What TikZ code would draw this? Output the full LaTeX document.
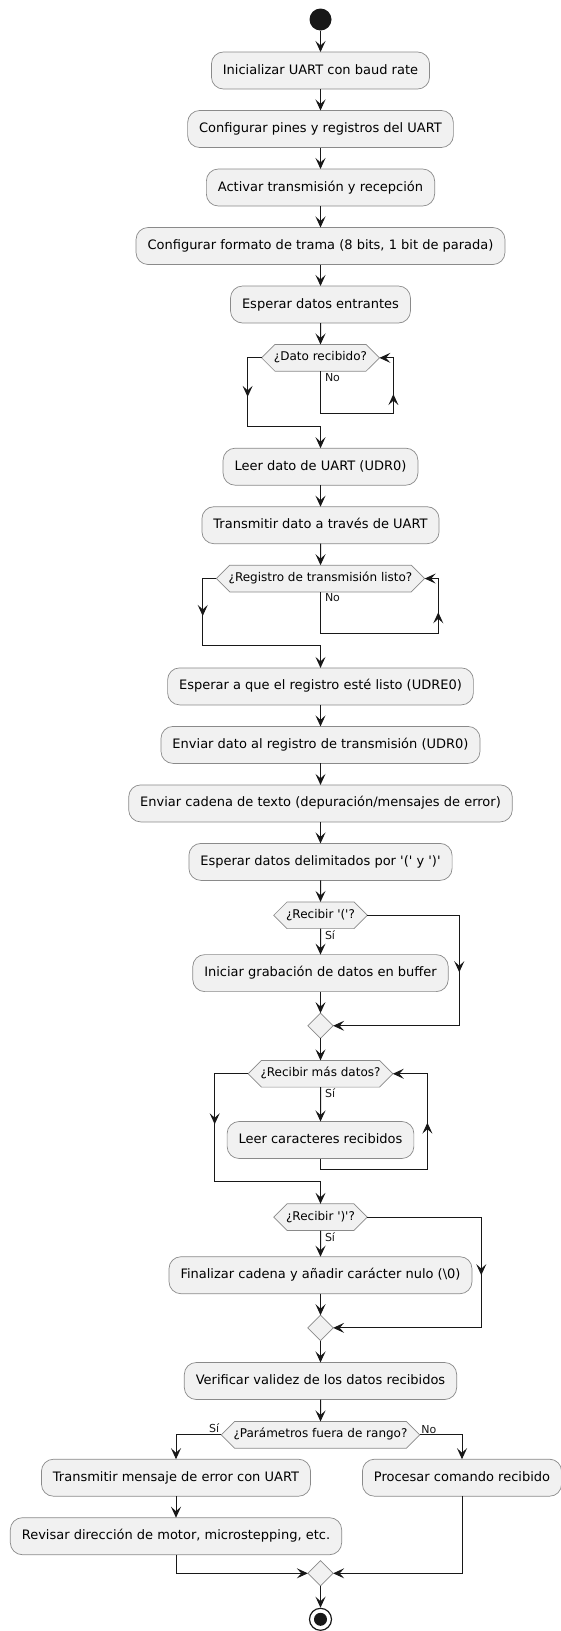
\documentclass[tikz,border=0pt]{standalone}
\usepackage{fontspec}
\newfontfamily\umlfont{DejaVu Sans}
\usetikzlibrary{positioning,arrows.meta,shapes.geometric,shapes.symbols,decorations.markings}
\definecolor{actfill}{HTML}{F1F1F1}
\definecolor{actline}{HTML}{8A8A8A}
\definecolor{flowc}{HTML}{181818}
\tikzset{
  act/.style={draw=actline, fill=actfill, line width=0.7pt, rounded corners=12pt, outer sep=0pt,
    minimum height=37pt, inner xsep=11.5pt, inner ysep=0pt,
    text height=9.5pt, text depth=2.5pt, font=\umlfont\fontsize{13}{15}\selectfont},
  ask/.style={draw=actline, fill=actfill, line width=0.7pt, signal, signal to=west and east,
    signal pointer angle=90, inner xsep=-1pt, inner ysep=7.35pt, minimum height=26.7pt, outer sep=0pt,
    text height=9pt, text depth=3pt, font=\umlfont\fontsize{12}{14}\selectfont},
  merge/.style={draw=actline, fill=actfill, line width=0.7pt, diamond, inner sep=0pt, outer sep=0pt,
    minimum width=25.3pt, minimum height=25.3pt},
  ini/.style={circle, fill=flowc, minimum size=22pt, inner sep=0pt, outer sep=0pt},
  fin/.style={circle, draw=flowc, line width=1.2pt, minimum size=22pt, inner sep=0pt,
    path picture={\fill[flowc] (path picture bounding box.center) circle (6.5pt);}},
  lbl/.style={font=\umlfont\fontsize{11}{13}\selectfont, inner xsep=4pt, inner ysep=1.5pt},
  flow/.style={color=flowc, line width=1pt, -{Stealth[length=11pt, width=10pt, inset=4.5pt]}},
  midarrow/.style={postaction={decorate, decoration={markings,
    mark=at position #1 with {\arrow{Stealth[length=11pt, width=10pt, inset=4.5pt]}}}}}
}
\begin{document}
\begin{tikzpicture}[x=1pt, y=-1pt, node distance=21.5pt]
    \fill[white] (0,0) rectangle (560,1631);
    \useasboundingbox (0,0) rectangle (560,1631);

    \node[ini] (ini) at (320.5,19.5) {};
    \node[act, below=of ini] (b1) {Inicializar UART con baud rate};
    \node[act, below=of b1] (b2) {Configurar pines y registros del UART};
    \node[act, below=of b2] (b3) {Activar transmisión y recepción};
    \node[act, below=of b3] (b4) {Configurar formato de trama (8 bits, 1 bit de parada)};
    \node[act, below=of b4] (b5) {Esperar datos entrantes};
    \node[ask, below=of b5] (q1) {¿Dato recibido?};
    \node[act, below=77pt of q1] (b6) {Leer dato de UART (UDR0)};
    \node[act, below=of b6] (b7) {Transmitir dato a través de UART};
    \node[ask, below=of b7] (q2) {¿Registro de transmisión listo?};
    \node[act, below=76pt of q2] (b8) {Esperar a que el registro esté listo (UDRE0)};
    \node[act, below=of b8] (b9) {Enviar dato al registro de transmisión (UDR0)};
    \node[act, below=of b9] (b10) {Enviar cadena de texto (depuración/mensajes de error)};
    \node[act, below=of b10] (b11) {Esperar datos delimitados por '(' y ')'};
    \node[ask, below=of b11] (q3) {¿Recibir '('?};
    \node[act, below=26pt of q3] (b12) {Iniciar grabación de datos en buffer};
    \node[merge, below=of b12] (m1) {};
    \node[ask, below=22pt of m1] (q4) {¿Recibir más datos?};
    \node[act, below=34.4pt of q4] (b13) {Leer caracteres recibidos};
    \node[ask, below=45.3pt of b13] (q5) {¿Recibir ')'?};
    \node[act, below=26.2pt of q5] (b14) {Finalizar cadena y añadir carácter nulo (\textbackslash 0)};
    \node[merge, below=of b14] (m2) {};
    \node[act, below=22pt of m2] (b15) {Verificar validez de los datos recibidos};
    \node[ask, below=22pt of b15] (q6) {¿Parámetros fuera de rango?};
    \node[act, below=11pt of q6, xshift=-144.5pt] (b16) {Transmitir mensaje de error con UART};
    \node[act, below=of b16] (b17) {Revisar dirección de motor, microstepping, etc.};
    \node[act, below=11pt of q6, xshift=141.5pt] (b18) {Procesar comando recibido};
    \node[merge] (m3) at (320.5,1573.3) {};
    \node[fin] (fin) at (320.5,1619.3) {};

    \draw[flow] (ini) -- (b1);
    \draw[flow] (b1) -- (b2);
    \draw[flow] (b2) -- (b3);
    \draw[flow] (b3) -- (b4);
    \draw[flow] (b4) -- (b5);
    \draw[flow] (b5) -- (q1);
    \draw[flow, midarrow=53pt] (q1.west) -- ++(-14,0) |- ([yshift=22pt]b6.north) -- (b6.north);
    \draw[flow, midarrow=134pt] (q1.south) -- node[lbl, pos=0, anchor=north west] {No} ++(0,42)
        -| ([xshift=14pt]q1.east) -- (q1.east);
    \draw[flow] (b6) -- (b7);
    \draw[flow] (b7) -- (q2);
    \draw[flow, midarrow=51pt] (q2.west) -- ++(-13.6,0) |- ([yshift=22pt]b8.north) -- (b8.north);
    \draw[flow, midarrow=180pt] (q2.south) -- node[lbl, pos=0, anchor=north west] {No} ++(0,41.3)
        -| ([xshift=13.6pt]q2.east) -- (q2.east);
    \draw[flow] (b8) -- (b9);
    \draw[flow] (b9) -- (b10);
    \draw[flow] (b10) -- (b11);
    \draw[flow] (b11) -- (q3);
    \draw[flow] (q3) -- node[lbl, pos=0, anchor=north west] {Sí} (b12);
    \draw[flow] (b12) -- (m1);
    \draw[flow, midarrow=149pt] (q3.east) -- ++(92,0) |- (m1.east);
    \draw[flow] (m1) -- (q4);
    \draw[flow] (q4) -- node[lbl, pos=0, anchor=north west] {Sí} (b13);
    \draw[flow, midarrow=164pt] (b13.south) -- ++(0,10.6) -| ([xshift=34.6pt]q4.east) -- (q4.east);
    \draw[flow, midarrow=84pt] (q4.west) -- ++(-33.5,0) |- ([yshift=22pt]q5.north) -- (q5.north);
    \draw[flow] (q5) -- node[lbl, pos=0, anchor=north west] {Sí} (b14);
    \draw[flow] (b14) -- (m2);
    \draw[flow, midarrow=172pt] (q5.east) -- ++(114,0) |- (m2.east);
    \draw[flow] (m2) -- (b15);
    \draw[flow] (b15) -- (q6);
    \draw[flow] (q6.west) -| node[lbl, pos=0, anchor=south east, inner sep=1.5pt] {Sí} (b16.north);
    \draw[flow] (q6.east) -| node[lbl, pos=0, anchor=south west, inner sep=1pt] {No} (b18.north);
    \draw[flow] (b16) -- (b17);
    \draw[flow] (b17.south) |- (m3.west);
    \draw[flow] (b18.south) |- (m3.east);
    \draw[flow] (m3) -- (fin);
\end{tikzpicture}
\end{document}
